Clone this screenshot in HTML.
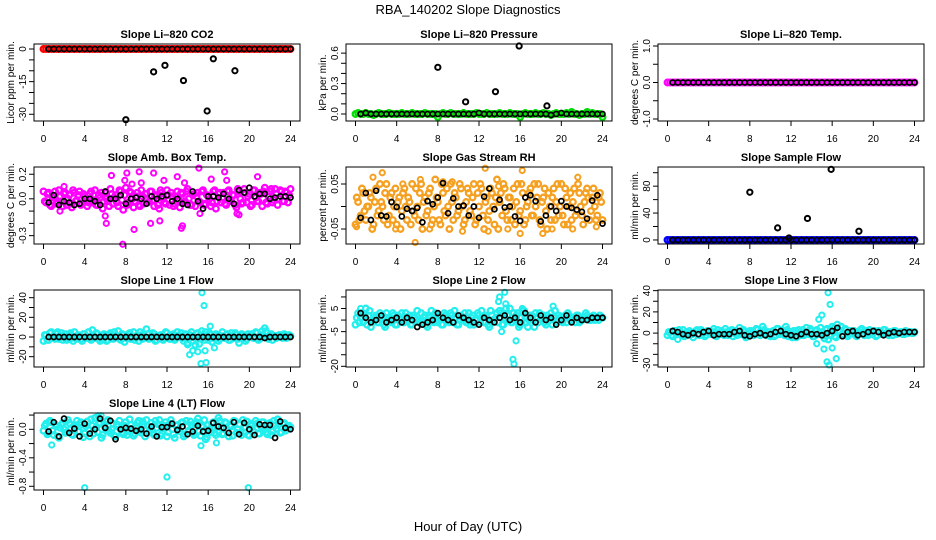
<!DOCTYPE html>
<html><head><meta charset="utf-8"><style>
html,body{margin:0;padding:0;background:#fff;}
svg{display:block;font-family:"Liberation Sans",sans-serif;}
</style></head><body>
<svg id="chart" width="936" height="540" viewBox="0 0 936 540">
<text x="468" y="14" text-anchor="middle" font-size="13">RBA_140202  Slope Diagnostics</text>
<text x="468" y="531" text-anchor="middle" font-size="13">Hour of Day (UTC)</text>
</svg>
<script>
const HOURS_C=[0,0.25,0.5,0.75,1,1.25,1.5,1.75,2,2.25,2.5,2.75,3,3.25,3.5,3.75,4,4.25,4.5,4.75,5,5.25,5.5,5.75,6,6.25,6.5,6.75,7,7.25,7.5,7.75,8,8.25,8.5,8.75,9,9.25,9.5,9.75,10,10.25,10.5,10.75,11,11.25,11.5,11.75,12,12.25,12.5,12.75,13,13.25,13.5,13.75,14,14.25,14.5,14.75,15,15.25,15.5,15.75,16,16.25,16.5,16.75,17,17.25,17.5,17.75,18,18.25,18.5,18.75,19,19.25,19.5,19.75,20,20.25,20.5,20.75,21,21.25,21.5,21.75,22,22.25,22.5,22.75,23,23.25,23.5,23.75,24];
const HOURS_C2=[0.125,0.375,0.625,0.875,1.125,1.375,1.625,1.875,2.125,2.375,2.625,2.875,3.125,3.375,3.625,3.875,4.125,4.375,4.625,4.875,5.125,5.375,5.625,5.875,6.125,6.375,6.625,6.875,7.125,7.375,7.625,7.875,8.125,8.375,8.625,8.875,9.125,9.375,9.625,9.875,10.125,10.375,10.625,10.875,11.125,11.375,11.625,11.875,12.125,12.375,12.625,12.875,13.125,13.375,13.625,13.875,14.125,14.375,14.625,14.875,15.125,15.375,15.625,15.875,16.125,16.375,16.625,16.875,17.125,17.375,17.625,17.875,18.125,18.375,18.625,18.875,19.125,19.375,19.625,19.875,20.125,20.375,20.625,20.875,21.125,21.375,21.625,21.875,22.125,22.375,22.625,22.875,23.125,23.375,23.625,23.875];
const HOURS_B=[0.5,1,1.5,2,2.5,3,3.5,4,4.5,5,5.5,6,6.5,7,7.5,8,8.5,9,9.5,10,10.5,11,11.5,12,12.5,13,13.5,14,14.5,15,15.5,16,16.5,17,17.5,18,18.5,19,19.5,20,20.5,21,21.5,22,22.5,23,23.5,24];
const X_TICKS=[0,4,8,12,16,20,24];

const co2Col=[0,0,0,0,0,0,0,0,0,0,0,0,0,0,0,0,0,0,0,0,0,0,0,0,0,0,0,0,0,0,0,0,0,0,0,0,0,0,0,0,0,0,0,0,0,0,0,0,0,0,0,0,0,0,0,0,0,0,0,0,0,0,0,0,0,0,0,0,0,0,0,0,0,0,0,0,0,0,0,0,0,0,0,0,0,0,0,0,0,0,0,0,0,0,0,0,0];
const co2Blk=[0,0,0,0,0,0,0,0,0,0,0,0,0,0,0,0,0,0,0,0,0,0,0,0,0,0,0,0,0,0,0,0,0,0,0,0,0,0,0,0,0,0,0,0,0,0,0,0];
const co2OutX=[8,10.7,11.8,13.6,15.9,16.5,18.6];
const co2OutY=[-32.5,-10.5,-7.5,-14.5,-28.5,-4.5,-10];

const presCol=[0,0.01,0,0,0.01,0,0,-0.01,0,0.01,0,0,0,0.01,0,0,0,0,0.01,0,0,0,0.01,0,0,0,0,0.01,0,0,0,0,-0.03,0,0.01,0,0,0.01,0,0,0,0,0.01,0,0,0,0,0.01,0,0,0,0.01,0,0,0,0,0.01,0,0,0,0.01,0,0,0,-0.03,0,0.01,0,0,0,0.01,0,0,0.01,0,0,-0.01,0,0.01,0,0,0,0.01,0,0.02,0,0,-0.01,0,0,0.02,0,0.01,0,0,0,-0.03];
const presBlk=[0,0.01,0,0,0,0,0,0,0,0,0,0,0,0,0,0,0,0,0,0,0,0,0,0.01,0,0,0,0,0,0,0,0,0,0,0,0,0,-0.01,0,0.01,0,0,0,0,0,0,0,0];
const presOutX=[8,10.7,13.6,15.9,18.6];
const presOutY=[0.46,0.12,0.22,0.67,0.08];

const tempCol=co2Col.slice();
const tempBlk=co2Blk.slice();

const ambCol=[0.06,-0.03,0.05,-0.06,0.02,-0.04,0.07,-0.02,0.04,-0.05,0.03,-0.07,0.05,-0.01,0.06,-0.04,0.02,-0.06,0.04,-0.03,0.07,-0.05,0.01,-0.08,0.05,-0.02,0.08,-0.04,0.03,-0.06,0.06,-0.09,0.09,-0.03,0.05,-0.07,0.02,-0.05,0.07,-0.04,0.04,-0.02,0.06,-0.06,0.03,-0.08,0.05,-0.03,0.07,-0.05,0.02,-0.04,0.06,-0.07,0.04,-0.02,0.08,-0.05,0.03,-0.06,0.05,-0.03,0.07,-0.04,0.02,-0.06,0.06,-0.08,0.04,-0.03,0.05,-0.05,0.07,-0.02,0.03,-0.07,0.06,-0.04,0.08,-0.03,0.04,-0.05,0.07,-0.02,0.05,-0.06,0.09,-0.04,0.06,-0.03,0.08,-0.05,0.07,-0.02,0.06,-0.03,0.08];
const ambCol2=[-0.02,0.04,-0.05,0.01,0.06,-0.03,0.02,-0.06,0.05,0.0,-0.04,0.07,-0.02,0.03,-0.05,0.04,0.0,-0.03,0.06,-0.01,-0.05,0.03,0.05,-0.02,0.0,-0.06,0.04,0.01,-0.03,0.07,-0.01,0.03,-0.05,0.06,0.0,-0.02,0.05,-0.06,0.02,0.04,-0.03,0.06,-0.01,0.02,-0.05,0.07,0.0,-0.04,0.03,0.05,-0.06,0.02,-0.01,0.05,-0.03,0.06,0.0,-0.05,0.04,0.02,-0.02,0.06,-0.05,0.03,0.0,-0.03,0.07,-0.02,0.05,0.01,-0.04,0.06,-0.01,0.03,-0.05,0.08,0.0,-0.03,0.05,0.02,-0.06,0.07,0.01,-0.02,0.04,0.06,-0.03,0.02,0.08,-0.01,0.04,0.0,0.06,-0.02,0.05,0.03];
const ambBlk=[-0.03,0.03,-0.05,-0.02,-0.03,-0.05,-0.04,0.00,0.00,-0.02,-0.05,0.06,0.00,0.00,0.03,-0.04,0.00,0.01,0.00,-0.04,0.02,0.00,0.02,0.03,-0.02,0.00,-0.04,-0.05,0.06,-0.02,-0.08,0.02,0.02,0.01,0.04,0.00,-0.04,0.07,0.05,0.09,0.02,0.04,0.04,0.00,0.01,0.02,0.02,0.01];
const ambOutX=[1.6,6.1,6.6,7.7,7.9,8.1,8.8,9.3,9.5,10.4,10.7,11.3,11.7,13.0,13.4,13.5,13.7,15.1,15.2,16.3,17.6,17.8,19.0,20.8,6.0,18.8,2.0,8.6];
const ambOutY=[-0.10,-0.20,0.19,-0.37,0.15,0.21,-0.25,0.22,0.13,-0.20,0.21,-0.18,0.15,0.18,-0.24,-0.22,0.13,0.25,-0.12,0.16,0.22,0.15,-0.13,0.18,-0.14,-0.12,0.10,0.12];

const rhCol=[-0.04,0.01,-0.02,0.03,-0.03,0.00,0.02,-0.04,0.04,-0.01,0.01,-0.03,0.05,-0.02,0.03,0.00,-0.04,0.02,-0.01,0.04,-0.03,0.01,0.05,-0.02,0.00,0.03,-0.05,0.02,-0.01,0.04,-0.03,0.06,0.01,-0.04,0.03,-0.02,0.00,0.05,-0.03,0.02,-0.01,0.04,-0.04,0.01,0.03,-0.02,0.05,-0.03,0.00,0.04,-0.05,0.02,-0.01,0.03,-0.04,0.06,0.01,-0.02,0.04,-0.03,0.02,0.00,-0.04,0.05,-0.01,0.03,-0.03,0.01,0.04,-0.02,0.00,0.05,-0.04,0.02,-0.01,0.03,-0.03,0.04,0.01,-0.02,0.05,-0.04,0.02,0.00,-0.03,0.04,-0.01,0.03,-0.02,0.01,0.04,-0.03,0.02,0.00,-0.02,0.03,-0.03];
const rhCol2=[0.02,-0.03,0.04,-0.01,0.0,0.03,-0.05,0.01,-0.02,0.05,0.0,0.03,-0.04,0.02,-0.03,0.04,0.01,-0.05,0.03,0.0,0.02,-0.04,-0.01,0.04,-0.03,0.05,0.01,-0.02,0.03,-0.04,0.0,0.02,-0.03,0.05,-0.01,0.04,-0.05,0.01,0.03,-0.02,0.05,0.0,-0.03,0.04,-0.01,0.02,-0.04,0.03,0.05,-0.02,0.01,-0.03,0.04,0.0,0.02,-0.05,0.03,0.05,-0.01,0.02,-0.03,0.04,0.01,-0.02,0.05,-0.04,0.0,0.03,-0.02,0.05,0.02,-0.03,0.01,0.04,-0.05,0.0,0.02,-0.03,0.05,0.0,-0.02,0.04,-0.04,0.03,0.01,-0.02,0.05,0.0,-0.04,0.03,0.02,-0.01,0.04,-0.03,0.02,0.01];
const rhBlk=[-0.025,0.03,-0.03,0.035,-0.02,-0.022,0.01,-0.001,-0.022,-0.005,-0.01,-0.003,-0.035,0.012,0.005,0.02,0.052,-0.015,0.018,0.0,0.002,-0.02,0.0,-0.025,0.022,0.04,-0.006,0.015,-0.002,0.0,-0.022,-0.032,0.02,0.025,0.012,-0.033,-0.02,0.0,-0.01,0.012,0.0,-0.003,-0.007,-0.012,-0.027,0.013,0.025,-0.038];
const rhOutX=[1.7,2.6,5.8,6.3,3.9,7.2,8.5,9.4,10.4,12.6,12.9,13.9,14.8,16.2,16.0,18.2,19.1,21.1,21.6,23.4,0.1,4.6];
const rhOutY=[0.065,0.075,-0.08,0.06,-0.05,-0.05,0.055,0.055,-0.055,0.085,-0.055,0.045,-0.05,0.08,-0.06,-0.06,-0.05,-0.05,0.065,-0.045,-0.045,0.05];

const flowCol=co2Col.slice();
const flowBlk=co2Blk.slice();
const flowOutX=[8,10.7,11.8,13.6,15.9,18.6];
const flowOutY=[71,18,3,32,105,13];

const l1Col=[-4,2,-3,5,-1,3,-2,4,0,-3,2,-1,5,-2,1,-4,3,0,-2,7,-1,3,-4,2,0,-3,4,-2,1,6,-3,2,-1,3,-2,5,0,-4,2,-1,8,-2,1,3,-3,0,2,-1,4,-2,1,-3,5,0,-1,3,-6,2,-4,-8,4,-2,1,5,-3,2,-1,3,-4,1,0,2,-3,4,-1,2,-6,3,0,-2,1,3,-1,4,-2,6,9,-1,2,-3,1,0,2,-1,1,0,1];
const l1Col2=[2,-3,4,0,-2,5,1,-3,3,-1,4,-4,0,2,-2,3,-1,5,-3,1,4,-2,0,3,-4,2,-1,5,0,-2,3,-5,1,4,-1,-3,2,5,-2,0,3,-1,4,-4,1,2,-3,5,0,-2,3,-1,1,4,-4,2,-2,5,0,3,-7,6,-3,1,4,-5,2,0,-2,5,-1,3,-3,1,4,-2,0,2,-4,3,1,-1,5,-3,2,0,6,-2,3,1,-1,2,0,3,-1,2];
const l1Blk=[0,0,0,0,0,0,0,0,0,0,0,0,0,0,0,0,0,0,0,0,0,0,0,0,0,0,0,0,0,0,0,0,0,0,0,0,0,0,0,0,0,0,-1,0,0,0,0,0];
const l1OutX=[15.4,15.6,16.2,14.2,14.5,15.0,15.3,15.8,16.6,15.7,14.0];
const l1OutY=[45,32,11,-18,-14,-15,-27,-26,-11,-14,-8];

const l2Col=[-2,3,1,-1,5,2,-3,0,2,-1,1,-2,3,0,-1,2,-2,1,3,-1,0,2,-2,1,4,0,-1,2,-3,1,0,3,-1,1,-2,2,0,3,-1,1,-2,2,0,-1,3,1,-2,0,2,4,-1,1,-3,2,0,3,4,-2,1,2,5,-1,0,3,-2,4,1,-3,2,0,3,-1,1,2,-2,0,3,1,-1,2,0,1,-1,2,0,1,2,-1,0,1,2,0,1,0,1,2,1];
const l2Col2=[1,-1,3,2,-2,4,0,1,-1,3,2,-3,1,0,3,-2,2,0,-1,3,1,-2,2,0,-1,3,1,-2,2,4,-1,0,2,-2,3,1,-1,2,4,-2,0,1,3,-1,-2,2,0,3,-1,1,2,-2,4,0,1,-1,3,-2,5,0,-1,3,2,-3,1,4,-1,0,2,-3,1,3,0,-1,2,1,-2,4,0,1,-1,2,3,0,1,-1,2,0,1,3,1,0,2,1,0,1];
const l2Blk=[3,1,-1,0,2,-1,0,1,-1,1,0,-3,-2,-1,0,3,1,0,-1,2,1,0,-1,-2,1,0,-1,1,2,0,1,-1,3,1,-1,2,0,1,-2,0,2,-1,1,0,0,1,1,1];
const l2OutX=[13.9,14.0,14.5,14.6,15.3,15.4,15.6,14.2,16.2,17.0,19.2,0.5];
const l2OutY=[8,10,12,7,-17,-19,-9,-5,5,2,6,5];

const l3Col=[-2,1,-3,2,0,-1,3,-2,1,0,-4,2,-1,3,0,-2,1,-1,4,-3,0,2,-2,1,-1,3,0,-2,5,-1,1,-3,2,0,-1,3,-2,6,-1,1,-3,2,-2,4,0,-1,6,-3,1,2,-4,3,0,-2,5,-1,2,-3,3,0,1,-5,4,-2,6,-3,8,2,-1,4,-3,2,0,-2,1,3,-1,2,-2,1,0,-3,2,-1,3,0,-2,1,2,-1,0,1,-1,0,1,0,1];
const l3Col2=[1,-2,2,-1,3,0,-3,1,2,-1,0,3,-2,1,-3,2,0,1,-2,3,-1,0,4,-2,1,-3,2,0,-1,3,-4,1,2,-2,4,0,-1,3,-2,1,0,-3,4,-1,2,-2,3,0,-4,2,1,-2,3,-1,0,4,-3,2,-1,5,-2,3,-6,2,4,-4,1,6,-2,3,-1,0,2,-3,1,4,-2,0,3,-1,2,-2,1,0,3,-1,1,-2,2,0,1,-1,2,0,1,0];
const l3Blk=[2,1,-1,-2,0,-1,1,2,-2,-1,-1,-1,1,2,-2,-3,-1,0,-2,-1,1,2,-1,-2,-3,-1,1,-1,-1,-2,0,2,5,-3,1,2,-2,-1,1,2,1,-2,0,1,0,1,1,1];
const l3OutX=[15.6,15.8,14.7,15.0,14.5,15.5,15.7,16.4,15.2,16.0,1.0];
const l3OutY=[38,27,13,17,-10,-27,-30,-24,-15,-14,-6];

const l4Col=[-0.02,0.08,-0.05,0.1,-0.08,0.04,-0.12,0.06,0.0,-0.04,0.09,-0.07,0.03,0.12,-0.03,0.07,-0.06,0.11,-0.1,0.05,0.16,-0.04,0.09,-0.08,0.02,0.13,-0.05,0.08,-0.1,0.04,0.0,-0.07,0.1,-0.03,0.06,-0.09,0.03,0.12,-0.05,0.07,0.13,-0.04,0.09,-0.08,0.02,0.13,-0.06,0.05,-0.1,0.08,0.0,-0.12,0.06,-0.03,0.1,-0.07,0.04,0.11,-0.05,0.07,0.15,-0.09,0.03,-0.14,0.06,-0.04,0.1,-0.08,0.16,0.02,-0.06,0.09,-0.1,0.04,0.12,-0.05,0.07,-0.08,0.02,0.11,-0.09,0.05,-0.04,0.08,-0.06,0.1,0.0,-0.07,0.09,-0.03,0.05,0.14,-0.05,0.08,-0.02,0.04,0.03];
const l4Col2=[0.05,-0.07,0.12,-0.02,0.07,-0.1,0.02,0.09,-0.05,0.13,0.0,-0.08,0.06,-0.03,0.1,-0.11,0.04,0.0,0.14,-0.06,0.03,0.08,-0.12,0.05,0.11,-0.02,0.0,-0.09,0.07,0.12,-0.04,0.05,-0.08,0.14,0.01,-0.06,0.09,-0.02,0.11,-0.1,0.05,0.0,-0.05,0.12,0.07,-0.09,0.02,0.1,-0.04,0.13,-0.07,0.05,0.0,0.09,-0.1,0.12,-0.02,0.06,-0.08,0.1,-0.03,0.05,0.13,-0.11,0.0,0.08,-0.05,0.04,0.12,-0.07,0.1,-0.02,0.06,-0.09,0.11,0.0,-0.05,0.13,0.03,-0.08,0.08,-0.02,0.12,-0.06,0.04,0.1,-0.04,0.06,-0.08,0.12,0.01,0.07,-0.04,0.09,0.02,0.05];
const l4Blk=[-0.03,0.1,-0.1,0.15,-0.05,0.01,-0.1,0.08,-0.06,0.0,0.15,0.02,0.12,-0.14,0.0,0.02,0.01,-0.02,0.0,-0.06,0.04,-0.1,0.03,0.03,0.08,-0.01,0.04,-0.07,-0.03,0.05,-0.03,-0.02,0.09,0.04,0.02,-0.05,0.1,-0.07,0.09,0.0,-0.08,0.07,0.06,0.06,-0.12,0.11,0.02,0.0];
const l4OutX=[4.0,12.0,19.9,0.8,15.3,16.8,5.3,5.6];
const l4OutY=[-0.82,-0.67,-0.82,-0.22,-0.23,-0.19,0.19,0.19];

const co2Ticks=[0,-5,-10,-15,-20,-25,-30], co2Labels=["0","","","-15","","","-30"];
const presTicks=[0,0.1,0.2,0.3,0.4,0.5,0.6], presLabels=["0.0","","","0.3","","","0.6"];
const tempTicks=[-1,-0.5,0,0.5,1], tempLabels=["-1.0","","0.0","","1.0"];
const ambTicks=[0.2,0.1,0,-0.1,-0.2,-0.3], ambLabels=["0.2","","0.0","","","-0.3"];
const rhTicks=[0.05,0,-0.05], rhLabels=["0.05","","-0.05"];
const flowTicks=[0,20,40,60,80,100], flowLabels=["0","","40","","80",""];
const l1Ticks=[-20,-10,0,10,20,30,40], l1Labels=["-20","","0","","20","","40"];
const l2Ticks=[-20,-15,-10,-5,0,5,10], l2Labels=["-20","","","-5","","5",""];
const l3Ticks=[-30,-20,-10,0,10,20,30,40], l3Labels=["-30","","","0","","20","","40"];
const l4Ticks=[0.2,0,-0.2,-0.4,-0.6,-0.8], l4Labels=["","0.0","","-0.4","","-0.8"];

const panels=[
 {id:'co2',c:0,r:0,title:'Slope Li\u2013820 CO2',ylab:'Licor ppm per min.',y0:-33.1,y1:2.3,color:'#ff0000',col:co2Col,col2:[],blk:co2Blk,ox:co2OutX,oy:co2OutY,oc:'#000',ticks:co2Ticks,labels:co2Labels},
 {id:'pressure',c:1,r:0,title:'Slope Li\u2013820 Pressure',ylab:'kPa per min.',y0:-0.069,y1:0.69,color:'#00dd00',col:presCol,col2:[],blk:presBlk,ox:presOutX,oy:presOutY,oc:'#000',ticks:presTicks,labels:presLabels},
 {id:'temp',c:2,r:0,title:'Slope Li\u2013820 Temp.',ylab:'degrees C per min.',y0:-1.055,y1:1.055,color:'#ff00ff',col:tempCol,col2:[],blk:tempBlk,ox:[],oy:[],oc:'#000',ticks:tempTicks,labels:tempLabels},
 {id:'amb-box',c:0,r:1,title:'Slope Amb. Box Temp.',ylab:'degrees C per min.',y0:-0.368,y1:0.259,color:'#ff00ff',col:ambCol,col2:ambCol2,blk:ambBlk,ox:ambOutX,oy:ambOutY,oc:'#ff00ff',ticks:ambTicks,labels:ambLabels},
 {id:'rh',c:1,r:1,title:'Slope Gas Stream RH',ylab:'percent per min.',y0:-0.0833,y1:0.0878,color:'#f5a020',col:rhCol,col2:rhCol2,blk:rhBlk,ox:rhOutX,oy:rhOutY,oc:'#f5a020',ticks:rhTicks,labels:rhLabels},
 {id:'sample-flow',c:2,r:1,title:'Slope Sample Flow',ylab:'ml/min per min.',y0:-6,y1:108.5,color:'#0000ff',col:flowCol,col2:[],blk:flowBlk,ox:flowOutX,oy:flowOutY,oc:'#000',ticks:flowTicks,labels:flowLabels},
 {id:'line1',c:0,r:2,title:'Slope Line 1 Flow',ylab:'ml/min per min.',y0:-30.5,y1:47.8,color:'#22eeee',col:l1Col,col2:l1Col2,blk:l1Blk,ox:l1OutX,oy:l1OutY,oc:'#22eeee',ticks:l1Ticks,labels:l1Labels},
 {id:'line2',c:1,r:2,title:'Slope Line 2 Flow',ylab:'ml/min per min.',y0:-20.3,y1:13,color:'#22eeee',col:l2Col,col2:l2Col2,blk:l2Blk,ox:l2OutX,oy:l2OutY,oc:'#22eeee',ticks:l2Ticks,labels:l2Labels},
 {id:'line3',c:2,r:2,title:'Slope Line 3 Flow',ylab:'ml/min per min.',y0:-31.9,y1:40.6,color:'#22eeee',col:l3Col,col2:l3Col2,blk:l3Blk,ox:l3OutX,oy:l3OutY,oc:'#22eeee',ticks:l3Ticks,labels:l3Labels},
 {id:'line4',c:0,r:3,title:'Slope Line 4 (LT) Flow',ylab:'ml/min per min.',y0:-0.852,y1:0.229,color:'#22eeee',col:l4Col,col2:l4Col2,blk:l4Blk,ox:l4OutX,oy:l4OutY,oc:'#22eeee',ticks:l4Ticks,labels:l4Labels}
];

const svg=document.getElementById('chart');
const NS='http://www.w3.org/2000/svg';
function mk(tag,attrs,parent){const e=document.createElementNS(NS,tag);for(const k in attrs)e.setAttribute(k,attrs[k]);parent.appendChild(e);return e;}

panels.forEach(p=>{
 const L=34+312*p.c, T=44+123*p.r, W=266, H=77;
 const g=mk('g',{},svg);
 
 
 const xs=h=>L+9.5+h*(247/24);
 const ys=v=>T+(p.y1-v)/(p.y1-p.y0)*H;
 const t=mk('text',{x:L+W/2,y:T-6,'text-anchor':'middle','font-size':'11','font-weight':'bold'},g);
 t.textContent=p.title;
 
 
 const yl=mk('text',{x:0,y:0,transform:`translate(${L-20},${T+H/2}) rotate(-90)`,'text-anchor':'middle','font-size':'10'},g);
 yl.textContent=p.ylab;
 
 
 const pts=mk('g',{fill:'none'},g);
 
 
 const n=Math.min(HOURS_C.length,p.col.length);
 for(let i=0;i<n;i++){
  const v=Math.max(p.y0,Math.min(p.y1,p.col[i]));
  const c=mk('circle',{cx:xs(HOURS_C[i]),cy:ys(v),r:2.8,stroke:p.color,'stroke-width':2.3},pts);
  
  
 }
 const n2=Math.min(HOURS_C2.length,p.col2.length);
 for(let i=0;i<n2;i++){
  const c=mk('circle',{cx:xs(HOURS_C2[i]),cy:ys(p.col2[i]),r:2.8,stroke:p.color,'stroke-width':2.3},pts);
  
  
 }
 for(let i=0;i<p.ox.length;i++){
  const c=mk('circle',{cx:xs(p.ox[i]),cy:ys(p.oy[i]),r:2.6,stroke:p.oc,'stroke-width':2},pts);
  
  
 }
 const nb=Math.min(HOURS_B.length,p.blk.length);
 for(let i=0;i<nb;i++){
  const c=mk('circle',{cx:xs(HOURS_B[i]),cy:ys(p.blk[i]),r:2.5,stroke:'#000','stroke-width':1.7},pts);
  
  
 }
 const box=mk('rect',{x:L,y:T,width:W,height:H,fill:'none',stroke:'#000','stroke-width':1},g);
 
 
 X_TICKS.forEach(h=>{
  mk('line',{x1:xs(h),x2:xs(h),y1:T+H,y2:T+H+5,stroke:'#000'},g);
  const tx=mk('text',{x:xs(h),y:T+H+21,'text-anchor':'middle','font-size':'10'},g);
  tx.textContent=String(h);
  
  
 });
 p.ticks.forEach((v,i)=>{
  const y=ys(v);
  mk('line',{x1:L-5,x2:L,y1:y,y2:y,stroke:'#000'},g);
  if(p.labels[i]){
   const tl=mk('text',{x:0,y:0,transform:`translate(${L-8},${y}) rotate(-90)`,'text-anchor':'middle','font-size':'10'},g);
   tl.textContent=p.labels[i];
   
   
  }
 });
});
</script>
</body></html>
